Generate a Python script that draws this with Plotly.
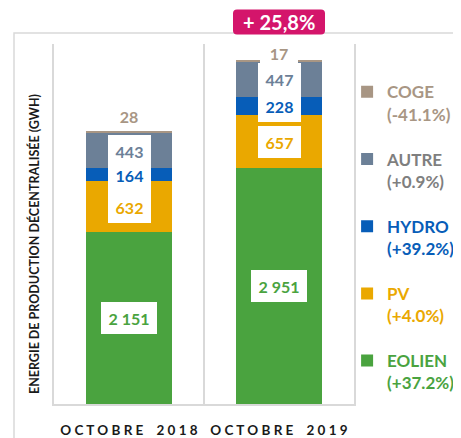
import plotly.graph_objects as go

# ---------------- data ----------------
categories = ["OCTOBRE 2018", "OCTOBRE 2019"]
series_names = ["EOLIEN", "PV", "HYDRO", "AUTRE", "COGE"]          # bottom -> top
eolien = [2151, 2951]
pv = [632, 657]
hydro = [164, 228]
autre = [443, 447]
coge = [28, 17]
variations = ["+37.2%", "+4.0%", "+39.2%", "+0.9%", "-41.1%"]
total_growth = "+ 25,8%"

values = [eolien, pv, hydro, autre, coge]
bar_colors = ["#4aa33f", "#eaa800", "#075db8", "#6c8097", "#a89684"]
text_colors = ["#4aa33f", "#eaa800", "#075db8", "#6c8097", "#a89684"]
legend_colors = ["#4aa33f", "#eaa800", "#075db8", "#7f7f7f", "#a89684"]

FONT = "Lato"
NB = "\u00a0"


def spaced(s):
    return "<b>" + (NB * 4).join(NB.join(w) for w in s.split(" ")) + "</b>"


def fmt(v):
    return f"{v:,}".replace(",", " ")


fig = go.Figure()

n = len(series_names)
for i, (name, vals) in enumerate(zip(series_names, values)):
    fig.add_trace(go.Bar(
        x=categories, y=vals, name=(
            f"<span style='color:{legend_colors[i]}'><b>{name}<br>({variations[i]})</b></span>"),
        marker=dict(color=bar_colors[i], line=dict(width=0)),
        legendgroup=name, legendrank=n - i, hoverinfo="skip",
    ))

# data labels (white boxes)
base = [0, 0]
for i, vals in enumerate(values):
    for j, v in enumerate(vals):
        txt = fmt(v)
        w = {2: 36, 3: 41}.get(len(txt), 54)
        if series_names[i] == "COGE":
            fig.add_annotation(x=categories[j], y=base[j] + v, xref="x", yref="y",
                               text=f"<b>{txt}</b>", showarrow=False, yanchor="bottom",
                               yshift=[0, -8][j], width=w, height=28, bgcolor="white",
                               borderwidth=0,
                               font=dict(family=FONT, size=16, color=text_colors[i]))
        else:
            fig.add_annotation(x=categories[j], y=base[j] + v / 2, xref="x", yref="y",
                               text=f"<b>{txt}</b>", showarrow=False,
                               width=w, height=30, bgcolor="white", borderwidth=0,
                               font=dict(family=FONT, size=16, color=text_colors[i]))
        base[j] += v

# y-axis title
fig.add_annotation(x=-0.067, y=0.444, xref="paper", yref="paper", textangle=-90,
                   xanchor="center", yanchor="middle",
                   text="<b>ENERGIE DE PRODUCTION DÉCENTRALISÉE (GWH)</b>", showarrow=False,
                   font=dict(family=FONT, size=12.5, color="#1a1a1a"))

# growth badge
badge_y = 1.061
fig.add_shape(type="rect", xref="paper", yref="paper", x0=-0.1333, x1=2, y0=-1, y1=1.0306,
              line=dict(color="#d9d9d9", width=1.5), fillcolor="rgba(0,0,0,0)", layer="above")
fig.add_shape(type="path", xref="x", yref="paper", xsizemode="pixel", ysizemode="pixel",
              xanchor=1, yanchor=badge_y,
              path=("M -42,-12.5 L 42,-12.5 Q 46,-12.5 46,-8.5 L 46,8.5 Q 46,12.5 42,12.5 "
                    "L -42,12.5 Q -46,12.5 -46,8.5 L -46,-8.5 Q -46,-12.5 -42,-12.5 Z"),
              fillcolor="#d4156b", line=dict(width=0), layer="above")
fig.add_annotation(x=categories[1], y=badge_y, xref="x", yref="paper",
                   xanchor="center", yanchor="middle",
                   text=f"<b>{total_growth}</b>", showarrow=False,
                   font=dict(family=FONT, size=20, color="white"))

# page body has an 8px margin -> figure drawn 8px smaller, shifted by 8px
fig.update_layout(
    width=453, height=430,
    margin=dict(l=46, r=107, t=36, b=34, autoexpand=False),
    paper_bgcolor="white", plot_bgcolor="white",
    barmode="stack", bargap=0.433,
    font=dict(family=FONT),
    showlegend=True,
    legend=dict(x=0.977, xanchor="left", y=0.916, yanchor="top", traceorder="grouped",
                tracegroupgap=20, valign="top", font=dict(family=FONT, size=17),
                bgcolor="rgba(0,0,0,0)"),
    xaxis=dict(type="category", range=[-0.5, 1.5], tickson="boundaries",
               showgrid=True, gridcolor="#d9d9d9", gridwidth=1.5,
               showline=True, linecolor="#d9d9d9", linewidth=1.5,
               ticks="", tickvals=categories, ticktext=[spaced(c) for c in categories],
               tickangle=0, automargin=False,
               tickfont=dict(family=FONT, size=13.5, color="#1a1a1a"),
               ticklabelstandoff=13),
    yaxis=dict(range=[0, 4500], showgrid=False, zeroline=False, showticklabels=False,
               showline=True, mirror=True, linecolor="#d9d9d9", linewidth=1.5, ticks="",
               automargin=False),
)

fig.write_html("out.html")
